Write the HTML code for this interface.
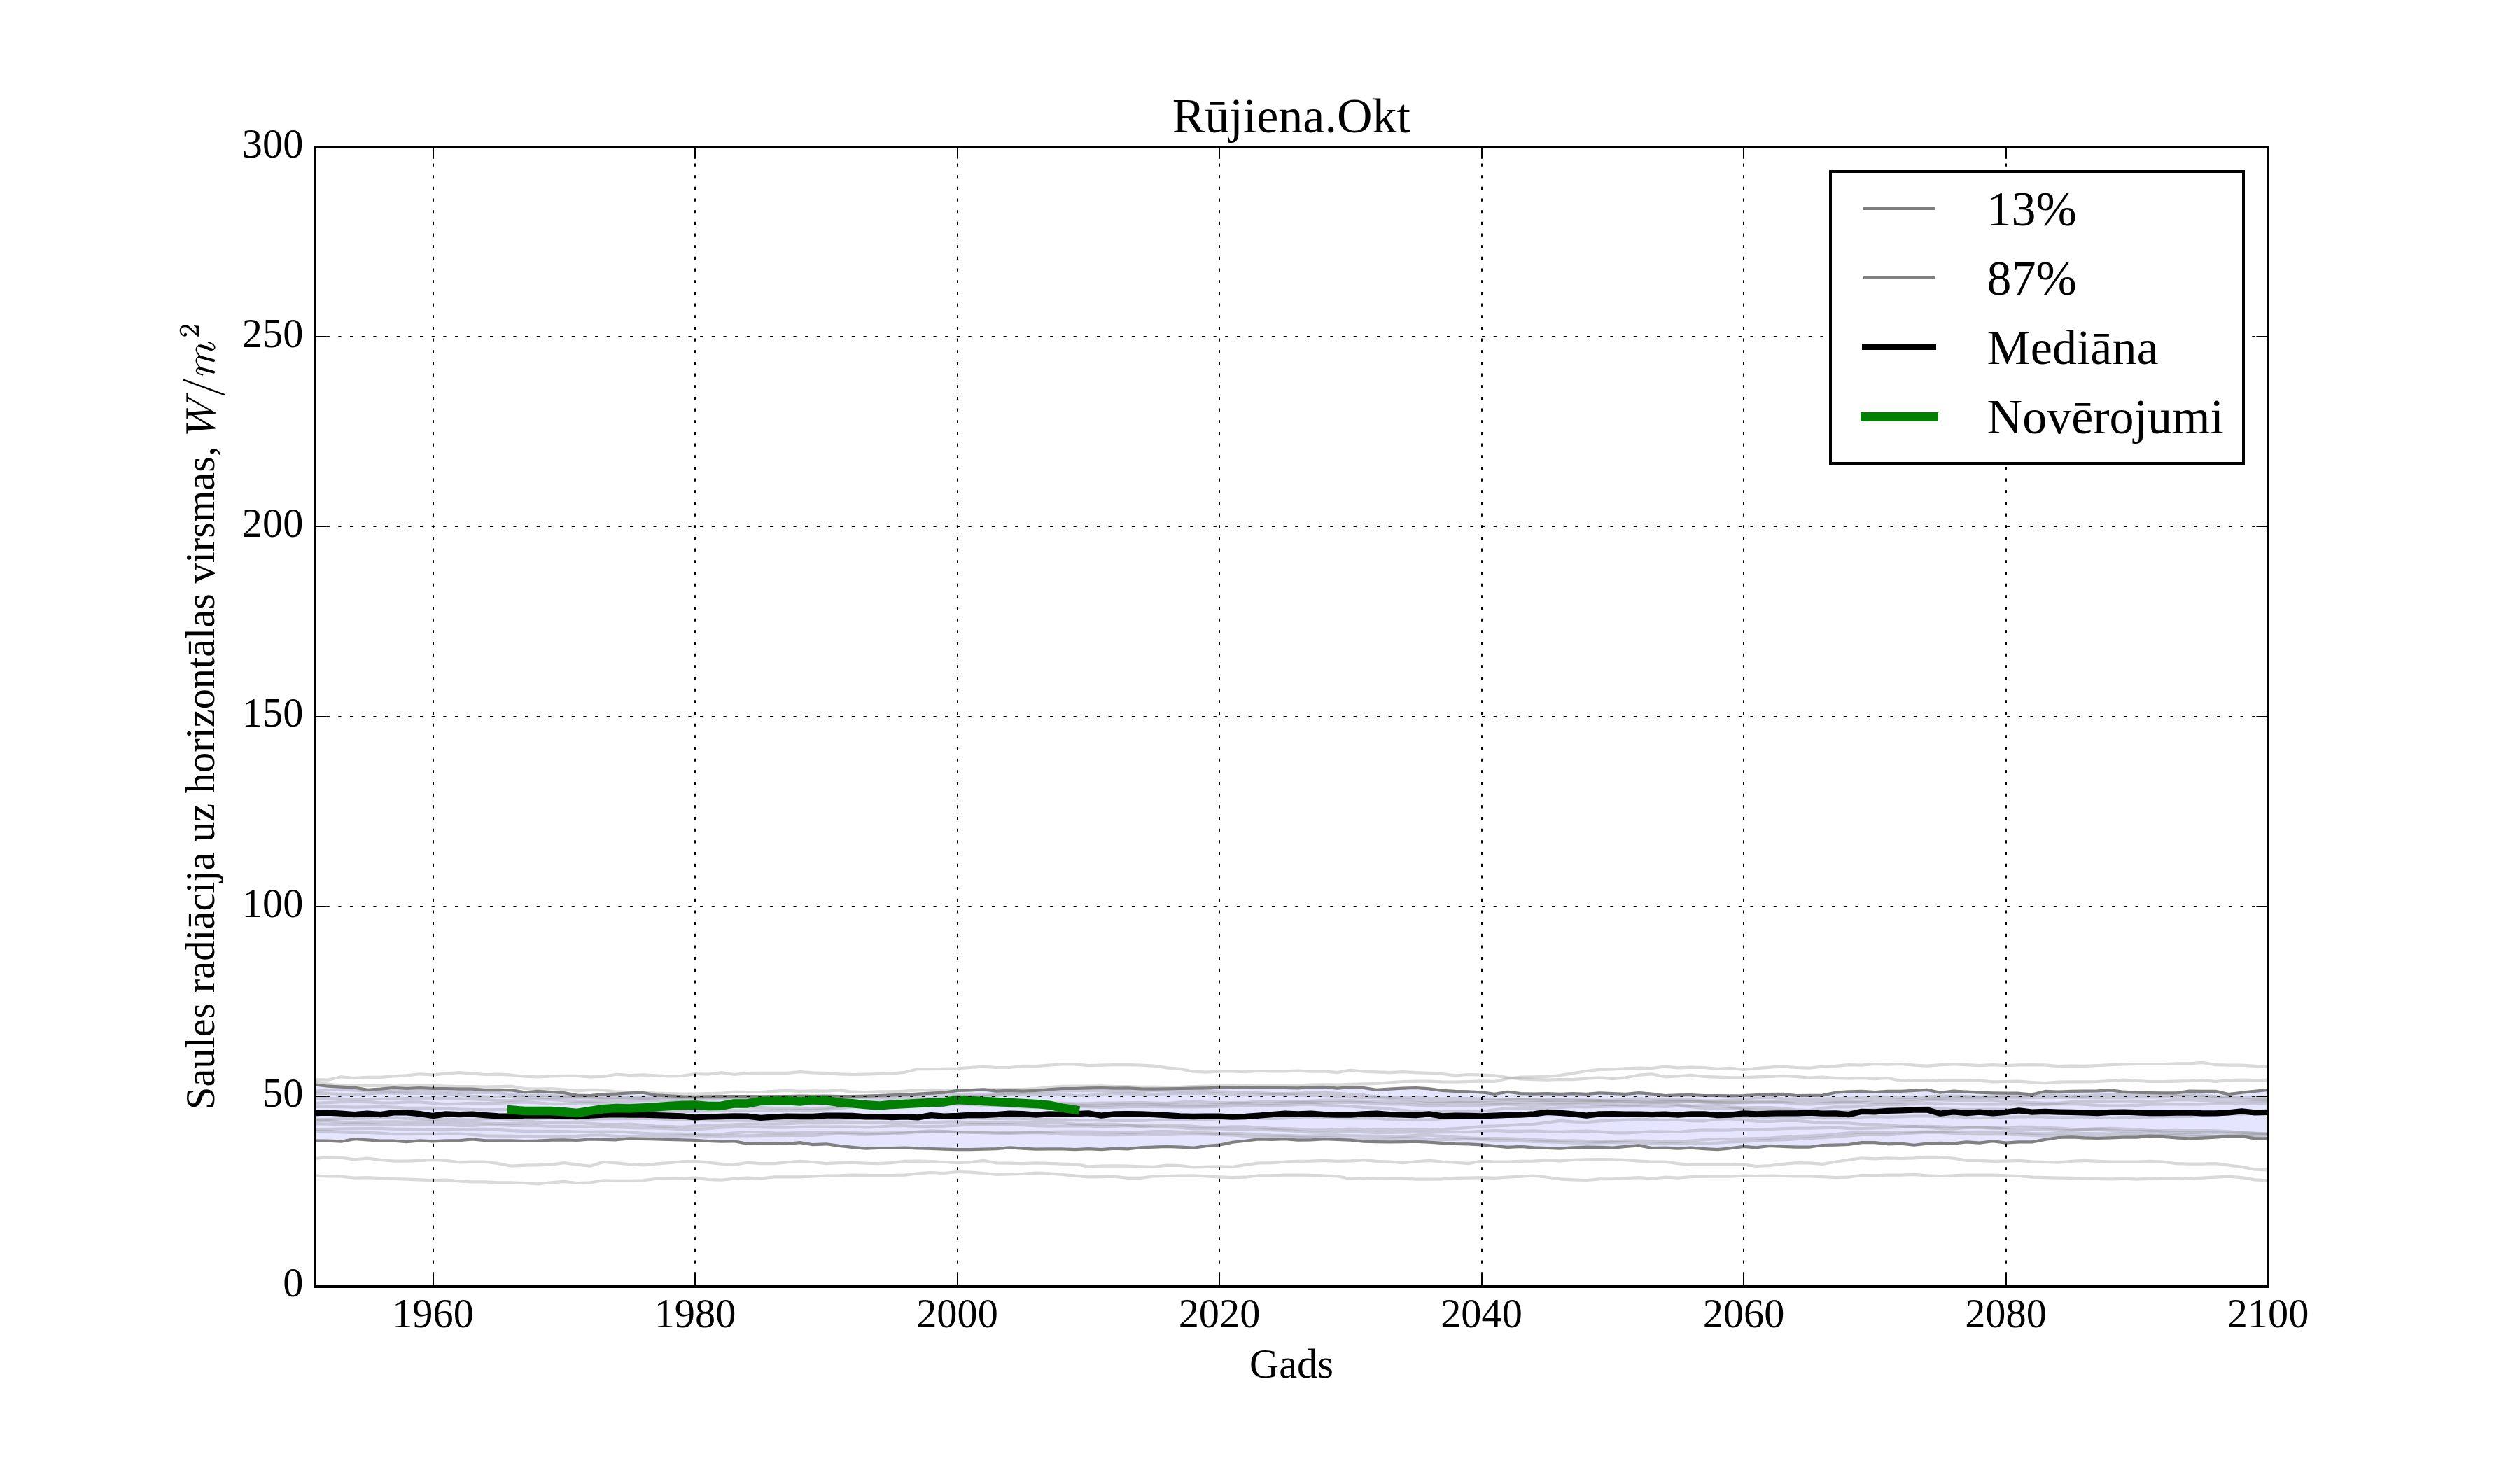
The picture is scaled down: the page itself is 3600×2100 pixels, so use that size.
<!DOCTYPE html><html lang="lv"><head><meta charset="utf-8"><title>Rūjiena.Okt</title><style>
html,body{margin:0;padding:0;background:#fff}body{width:3600px;height:2100px;position:relative;overflow:hidden;font-family:"Liberation Serif",serif;color:#000}
.t{position:absolute;white-space:nowrap;line-height:1;font-size:58.33px}
.xt{transform:translateX(-50%)}.yt{transform:translateX(-100%)}
.lg{font-size:70px}
</style></head><body>
<svg width="3600" height="2100" viewBox="0 0 3600 2100" style="position:absolute;left:0;top:0">
<rect x="0" y="0" width="3600" height="2100" fill="#fff"/>
<defs><clipPath id="ax"><rect x="450" y="210" width="2790" height="1627.5"/></clipPath></defs>
<g clip-path="url(#ax)">
<path d="M450.0 1549.3 L468.7 1551.7 L487.4 1552.6 L506.2 1553.6 L524.9 1556.9 L543.6 1555.7 L562.3 1554.0 L581.1 1555.0 L599.8 1554.0 L618.5 1555.0 L637.2 1555.0 L656.0 1555.7 L674.7 1555.7 L693.4 1557.1 L712.1 1556.9 L730.9 1557.4 L749.6 1560.3 L768.3 1558.9 L787.0 1560.0 L805.8 1561.1 L824.5 1564.6 L843.2 1565.0 L861.9 1563.1 L880.7 1562.6 L899.4 1561.4 L918.1 1560.7 L936.8 1564.3 L955.6 1565.4 L974.3 1566.4 L993.0 1566.9 L1011.7 1566.4 L1030.5 1566.0 L1049.2 1566.0 L1067.9 1566.0 L1086.6 1566.4 L1105.4 1566.0 L1124.1 1566.0 L1142.8 1565.7 L1161.5 1565.9 L1180.3 1565.7 L1199.0 1566.0 L1217.7 1566.0 L1236.4 1565.7 L1255.2 1565.0 L1273.9 1564.3 L1292.6 1563.6 L1311.3 1562.6 L1330.1 1561.7 L1348.8 1560.7 L1367.5 1557.9 L1386.2 1557.4 L1405.0 1556.4 L1423.7 1558.6 L1442.4 1557.9 L1461.1 1558.6 L1479.9 1557.9 L1498.6 1556.4 L1517.3 1555.0 L1536.0 1555.0 L1554.8 1554.3 L1573.5 1554.0 L1592.2 1554.6 L1610.9 1554.3 L1629.7 1555.4 L1648.4 1555.7 L1667.1 1555.4 L1685.8 1555.0 L1704.6 1554.6 L1723.3 1554.3 L1742.0 1553.6 L1760.7 1554.0 L1779.5 1553.6 L1798.2 1554.0 L1816.9 1554.0 L1835.6 1554.0 L1854.4 1554.3 L1873.1 1553.0 L1891.8 1552.9 L1910.5 1554.6 L1929.3 1553.1 L1948.0 1554.0 L1966.7 1556.9 L1985.4 1555.7 L2004.2 1554.6 L2022.9 1554.0 L2041.6 1555.4 L2060.3 1557.9 L2079.1 1558.9 L2097.8 1559.3 L2116.5 1560.3 L2135.2 1562.9 L2154.0 1559.7 L2172.7 1562.1 L2191.4 1562.6 L2210.1 1562.1 L2228.9 1562.9 L2247.6 1562.1 L2266.3 1562.9 L2285.0 1561.4 L2303.8 1562.1 L2322.5 1562.9 L2341.2 1561.1 L2359.9 1562.6 L2378.7 1565.0 L2397.4 1564.3 L2416.1 1564.0 L2434.8 1565.0 L2453.6 1565.0 L2472.3 1565.4 L2491.0 1565.0 L2509.7 1564.0 L2528.5 1563.1 L2547.2 1562.9 L2565.9 1565.0 L2584.6 1564.8 L2603.4 1564.6 L2622.1 1560.7 L2640.8 1559.3 L2659.5 1558.9 L2678.3 1560.0 L2697.0 1558.9 L2715.7 1558.9 L2734.4 1557.9 L2753.2 1556.9 L2771.9 1560.7 L2790.6 1558.6 L2809.3 1559.7 L2828.1 1560.7 L2846.8 1561.4 L2865.5 1561.7 L2884.2 1561.7 L2903.0 1563.6 L2921.7 1558.9 L2940.4 1559.7 L2959.1 1558.9 L2977.9 1558.6 L2996.6 1558.3 L3015.3 1557.4 L3034.0 1559.7 L3052.8 1560.7 L3071.5 1561.1 L3090.2 1561.4 L3108.9 1561.4 L3127.7 1558.6 L3146.4 1558.9 L3165.1 1558.9 L3183.8 1563.1 L3202.6 1560.7 L3221.3 1558.9 L3240.0 1556.9 L3240.0 1626.4 L3221.3 1626.4 L3202.6 1623.1 L3183.8 1623.1 L3165.1 1624.6 L3146.4 1625.7 L3127.7 1626.4 L3108.9 1625.4 L3090.2 1624.0 L3071.5 1622.6 L3052.8 1624.6 L3034.0 1624.6 L3015.3 1625.4 L2996.6 1626.0 L2977.9 1625.4 L2959.1 1624.3 L2940.4 1625.0 L2921.7 1627.9 L2903.0 1631.4 L2884.2 1631.4 L2865.5 1632.6 L2846.8 1630.3 L2828.1 1632.6 L2809.3 1631.4 L2790.6 1633.6 L2771.9 1632.9 L2753.2 1633.6 L2734.4 1635.7 L2715.7 1633.6 L2697.0 1634.3 L2678.3 1632.1 L2659.5 1632.1 L2640.8 1635.0 L2622.1 1635.7 L2603.4 1636.0 L2584.6 1638.7 L2565.9 1638.6 L2547.2 1637.9 L2528.5 1636.9 L2509.7 1639.3 L2491.0 1637.9 L2472.3 1640.3 L2453.6 1642.1 L2434.8 1641.1 L2416.1 1639.7 L2397.4 1640.7 L2378.7 1639.7 L2359.9 1640.0 L2341.2 1636.4 L2322.5 1637.9 L2303.8 1639.7 L2285.0 1638.9 L2266.3 1638.6 L2247.6 1639.3 L2228.9 1640.7 L2210.1 1640.0 L2191.4 1639.3 L2172.7 1637.9 L2154.0 1638.9 L2135.2 1637.1 L2116.5 1635.4 L2097.8 1634.3 L2079.1 1634.0 L2060.3 1632.9 L2041.6 1631.7 L2022.9 1630.7 L2004.2 1631.1 L1985.4 1631.4 L1966.7 1631.1 L1948.0 1630.7 L1929.3 1628.6 L1910.5 1627.9 L1891.8 1627.1 L1873.1 1628.4 L1854.4 1628.6 L1835.6 1627.1 L1816.9 1627.9 L1798.2 1627.4 L1779.5 1629.7 L1760.7 1631.7 L1742.0 1635.7 L1723.3 1637.1 L1704.6 1639.7 L1685.8 1638.6 L1667.1 1637.9 L1648.4 1638.6 L1629.7 1639.3 L1610.9 1641.4 L1592.2 1640.7 L1573.5 1642.1 L1554.8 1641.1 L1536.0 1642.1 L1517.3 1641.4 L1498.6 1641.4 L1479.9 1641.7 L1461.1 1640.7 L1442.4 1639.3 L1423.7 1641.1 L1405.0 1641.7 L1386.2 1642.1 L1367.5 1642.1 L1348.8 1641.7 L1330.1 1641.0 L1311.3 1640.3 L1292.6 1639.7 L1273.9 1640.0 L1255.2 1640.0 L1236.4 1640.7 L1217.7 1638.9 L1199.0 1636.9 L1180.3 1634.3 L1161.5 1635.2 L1142.8 1632.1 L1124.1 1634.0 L1105.4 1633.6 L1086.6 1633.6 L1067.9 1634.0 L1049.2 1630.3 L1030.5 1630.7 L1011.7 1630.0 L993.0 1628.9 L974.3 1628.3 L955.6 1627.9 L936.8 1627.4 L918.1 1626.9 L899.4 1626.4 L880.7 1628.3 L861.9 1627.9 L843.2 1627.4 L824.5 1629.0 L805.8 1628.3 L787.0 1628.6 L768.3 1629.7 L749.6 1630.0 L730.9 1629.3 L712.1 1629.3 L693.4 1629.3 L674.7 1627.4 L656.0 1629.3 L637.2 1629.3 L618.5 1630.3 L599.8 1629.3 L581.1 1631.1 L562.3 1629.7 L543.6 1629.7 L524.9 1628.3 L506.2 1627.1 L487.4 1630.7 L468.7 1629.7 L450.0 1629.7Z" fill="#0000ff" fill-opacity="0.1" stroke="none"/>
<path d="M450.0 1558.8 L468.7 1557.1 L487.4 1556.4 L506.2 1557.5 L524.9 1558.1 L543.6 1558.2 L562.3 1558.8 L581.1 1558.6 L599.8 1557.6 L618.5 1557.3 L637.2 1558.9 L656.0 1560.5 L674.7 1560.9 L693.4 1560.3 L712.1 1561.1 L730.9 1563.6 L749.6 1565.0 L768.3 1564.6 L787.0 1564.9 L805.8 1565.8 L824.5 1566.2 L843.2 1567.1 L861.9 1568.1 L880.7 1567.8 L899.4 1567.7 L918.1 1567.8 L936.8 1567.6 L955.6 1567.6 L974.3 1568.0 L993.0 1568.0 L1011.7 1567.9 L1030.5 1567.9 L1049.2 1568.0 L1067.9 1568.2 L1086.6 1568.3 L1105.4 1568.8 L1124.1 1568.6 L1142.8 1567.8 L1161.5 1568.2 L1180.3 1567.3 L1199.0 1566.5 L1217.7 1566.5 L1236.4 1566.7 L1255.2 1566.3 L1273.9 1565.2 L1292.6 1564.9 L1311.3 1564.2 L1330.1 1562.6 L1348.8 1562.4 L1367.5 1563.4 L1386.2 1563.7 L1405.0 1563.3 L1423.7 1562.4 L1442.4 1561.4 L1461.1 1561.0 L1479.9 1560.3 L1498.6 1558.9 L1517.3 1558.3 L1536.0 1558.1 L1554.8 1557.9 L1573.5 1558.4 L1592.2 1558.1 L1610.9 1558.6 L1629.7 1559.4 L1648.4 1558.0 L1667.1 1557.8 L1685.8 1558.4 L1704.6 1557.8 L1723.3 1558.0 L1742.0 1559.3 L1760.7 1560.0 L1779.5 1560.4 L1798.2 1561.0 L1816.9 1561.9 L1835.6 1562.2 L1854.4 1561.6 L1873.1 1560.9 L1891.8 1560.8 L1910.5 1561.8 L1929.3 1563.2 L1948.0 1564.2 L1966.7 1566.5 L1985.4 1568.0 L2004.2 1567.2 L2022.9 1567.3 L2041.6 1569.0 L2060.3 1569.5 L2079.1 1569.2 L2097.8 1569.1 L2116.5 1569.3 L2135.2 1570.1 L2154.0 1570.6 L2172.7 1570.1 L2191.4 1570.2 L2210.1 1571.1 L2228.9 1571.0 L2247.6 1570.5 L2266.3 1571.2 L2285.0 1571.8 L2303.8 1571.5 L2322.5 1570.5 L2341.2 1569.3 L2359.9 1569.9 L2378.7 1571.1 L2397.4 1571.0 L2416.1 1571.2 L2434.8 1572.5 L2453.6 1572.6 L2472.3 1571.6 L2491.0 1570.7 L2509.7 1568.3 L2528.5 1567.8 L2547.2 1569.4 L2565.9 1569.8 L2584.6 1569.8 L2603.4 1569.5 L2622.1 1569.0 L2640.8 1568.9 L2659.5 1567.8 L2678.3 1566.7 L2697.0 1567.0 L2715.7 1568.0 L2734.4 1567.8 L2753.2 1566.3 L2771.9 1565.7 L2790.6 1565.6 L2809.3 1566.1 L2828.1 1566.9 L2846.8 1566.1 L2865.5 1565.0 L2884.2 1565.2 L2903.0 1565.0 L2921.7 1564.0 L2940.4 1564.3 L2959.1 1565.6 L2977.9 1565.5 L2996.6 1564.4 L3015.3 1563.9 L3034.0 1563.4 L3052.8 1563.4 L3071.5 1564.5 L3090.2 1564.9 L3108.9 1564.0 L3127.7 1563.7 L3146.4 1564.7 L3165.1 1566.3 L3183.8 1566.9 L3202.6 1567.3 L3221.3 1568.5 L3240.0 1569.2" fill="none" stroke="#808080" stroke-opacity="0.3" stroke-width="4.17" stroke-linejoin="round"/>
<path d="M450.0 1561.8 L468.7 1562.0 L487.4 1563.0 L506.2 1563.3 L524.9 1562.5 L543.6 1561.5 L562.3 1561.3 L581.1 1561.8 L599.8 1562.0 L618.5 1561.9 L637.2 1562.6 L656.0 1564.2 L674.7 1565.9 L693.4 1566.7 L712.1 1566.8 L730.9 1566.8 L749.6 1567.1 L768.3 1567.6 L787.0 1568.2 L805.8 1568.0 L824.5 1567.8 L843.2 1568.4 L861.9 1569.3 L880.7 1569.7 L899.4 1569.4 L918.1 1569.2 L936.8 1569.4 L955.6 1570.0 L974.3 1571.1 L993.0 1571.0 L1011.7 1570.5 L1030.5 1569.8 L1049.2 1568.7 L1067.9 1568.6 L1086.6 1569.9 L1105.4 1570.3 L1124.1 1569.1 L1142.8 1568.6 L1161.5 1568.5 L1180.3 1567.5 L1199.0 1567.2 L1217.7 1567.9 L1236.4 1568.2 L1255.2 1568.5 L1273.9 1568.8 L1292.6 1568.3 L1311.3 1568.3 L1330.1 1569.1 L1348.8 1568.1 L1367.5 1566.1 L1386.2 1565.9 L1405.0 1566.1 L1423.7 1564.7 L1442.4 1563.7 L1461.1 1563.2 L1479.9 1562.7 L1498.6 1562.9 L1517.3 1563.7 L1536.0 1564.8 L1554.8 1564.8 L1573.5 1563.2 L1592.2 1562.0 L1610.9 1562.4 L1629.7 1563.0 L1648.4 1563.1 L1667.1 1562.4 L1685.8 1561.8 L1704.6 1562.0 L1723.3 1561.8 L1742.0 1562.3 L1760.7 1563.5 L1779.5 1564.4 L1798.2 1564.1 L1816.9 1563.0 L1835.6 1563.7 L1854.4 1564.6 L1873.1 1564.5 L1891.8 1565.2 L1910.5 1565.8 L1929.3 1567.3 L1948.0 1568.2 L1966.7 1568.2 L1985.4 1569.0 L2004.2 1570.2 L2022.9 1571.5 L2041.6 1573.1 L2060.3 1573.4 L2079.1 1573.7 L2097.8 1573.6 L2116.5 1572.7 L2135.2 1572.0 L2154.0 1571.4 L2172.7 1571.2 L2191.4 1571.6 L2210.1 1571.9 L2228.9 1571.7 L2247.6 1572.1 L2266.3 1572.4 L2285.0 1572.2 L2303.8 1572.8 L2322.5 1574.1 L2341.2 1574.0 L2359.9 1572.9 L2378.7 1572.5 L2397.4 1572.8 L2416.1 1573.4 L2434.8 1574.3 L2453.6 1574.6 L2472.3 1574.9 L2491.0 1574.7 L2509.7 1573.6 L2528.5 1573.2 L2547.2 1573.8 L2565.9 1574.2 L2584.6 1574.0 L2603.4 1573.9 L2622.1 1574.1 L2640.8 1573.6 L2659.5 1572.4 L2678.3 1570.7 L2697.0 1570.3 L2715.7 1571.2 L2734.4 1570.7 L2753.2 1569.4 L2771.9 1569.0 L2790.6 1568.5 L2809.3 1568.0 L2828.1 1568.2 L2846.8 1568.1 L2865.5 1568.1 L2884.2 1568.3 L2903.0 1568.1 L2921.7 1567.9 L2940.4 1567.6 L2959.1 1567.3 L2977.9 1567.8 L2996.6 1568.3 L3015.3 1568.1 L3034.0 1567.8 L3052.8 1567.3 L3071.5 1567.4 L3090.2 1567.3 L3108.9 1565.9 L3127.7 1566.4 L3146.4 1568.2 L3165.1 1568.5 L3183.8 1568.7 L3202.6 1570.0 L3221.3 1571.0 L3240.0 1571.5" fill="none" stroke="#808080" stroke-opacity="0.3" stroke-width="4.17" stroke-linejoin="round"/>
<path d="M450.0 1569.1 L468.7 1569.1 L487.4 1569.5 L506.2 1570.3 L524.9 1570.5 L543.6 1569.8 L562.3 1569.4 L581.1 1569.0 L599.8 1568.5 L618.5 1568.6 L637.2 1568.9 L656.0 1569.3 L674.7 1570.1 L693.4 1571.0 L712.1 1572.2 L730.9 1571.8 L749.6 1570.4 L768.3 1570.4 L787.0 1571.0 L805.8 1571.9 L824.5 1572.7 L843.2 1573.2 L861.9 1573.6 L880.7 1573.7 L899.4 1572.8 L918.1 1571.9 L936.8 1572.5 L955.6 1573.6 L974.3 1574.1 L993.0 1574.8 L1011.7 1575.8 L1030.5 1576.0 L1049.2 1575.9 L1067.9 1576.1 L1086.6 1576.0 L1105.4 1575.5 L1124.1 1575.2 L1142.8 1575.1 L1161.5 1576.1 L1180.3 1576.2 L1199.0 1574.6 L1217.7 1574.3 L1236.4 1574.9 L1255.2 1574.5 L1273.9 1574.2 L1292.6 1574.9 L1311.3 1575.2 L1330.1 1575.2 L1348.8 1574.7 L1367.5 1573.8 L1386.2 1574.5 L1405.0 1575.1 L1423.7 1574.4 L1442.4 1574.6 L1461.1 1575.8 L1479.9 1576.5 L1498.6 1575.9 L1517.3 1575.7 L1536.0 1576.5 L1554.8 1576.3 L1573.5 1575.7 L1592.2 1575.6 L1610.9 1575.3 L1629.7 1574.9 L1648.4 1575.6 L1667.1 1576.0 L1685.8 1574.5 L1704.6 1573.6 L1723.3 1574.7 L1742.0 1575.2 L1760.7 1575.4 L1779.5 1575.0 L1798.2 1573.7 L1816.9 1573.3 L1835.6 1573.6 L1854.4 1573.7 L1873.1 1572.9 L1891.8 1571.9 L1910.5 1571.7 L1929.3 1572.1 L1948.0 1572.9 L1966.7 1574.0 L1985.4 1574.3 L2004.2 1574.1 L2022.9 1574.9 L2041.6 1576.2 L2060.3 1575.8 L2079.1 1575.2 L2097.8 1575.3 L2116.5 1575.3 L2135.2 1575.6 L2154.0 1575.7 L2172.7 1575.0 L2191.4 1574.9 L2210.1 1575.2 L2228.9 1575.3 L2247.6 1575.0 L2266.3 1574.3 L2285.0 1574.0 L2303.8 1573.9 L2322.5 1573.9 L2341.2 1574.4 L2359.9 1574.7 L2378.7 1574.5 L2397.4 1573.9 L2416.1 1573.6 L2434.8 1574.4 L2453.6 1575.6 L2472.3 1575.7 L2491.0 1575.1 L2509.7 1575.0 L2528.5 1574.8 L2547.2 1575.0 L2565.9 1576.8 L2584.6 1577.7 L2603.4 1576.4 L2622.1 1575.1 L2640.8 1574.9 L2659.5 1575.2 L2678.3 1574.9 L2697.0 1574.8 L2715.7 1574.8 L2734.4 1573.3 L2753.2 1571.3 L2771.9 1571.3 L2790.6 1571.9 L2809.3 1571.9 L2828.1 1571.6 L2846.8 1572.0 L2865.5 1573.2 L2884.2 1574.3 L2903.0 1575.1 L2921.7 1575.8 L2940.4 1575.9 L2959.1 1574.0 L2977.9 1573.2 L2996.6 1573.7 L3015.3 1573.1 L3034.0 1572.5 L3052.8 1572.9 L3071.5 1573.2 L3090.2 1572.3 L3108.9 1570.9 L3127.7 1571.2 L3146.4 1571.9 L3165.1 1572.7 L3183.8 1573.3 L3202.6 1573.4 L3221.3 1573.2 L3240.0 1573.3" fill="none" stroke="#808080" stroke-opacity="0.3" stroke-width="4.17" stroke-linejoin="round"/>
<path d="M450.0 1576.0 L468.7 1575.2 L487.4 1574.2 L506.2 1573.8 L524.9 1574.2 L543.6 1575.3 L562.3 1575.5 L581.1 1574.4 L599.8 1574.3 L618.5 1575.9 L637.2 1577.3 L656.0 1576.6 L674.7 1575.9 L693.4 1576.1 L712.1 1576.0 L730.9 1575.2 L749.6 1574.4 L768.3 1575.3 L787.0 1576.8 L805.8 1576.7 L824.5 1575.7 L843.2 1575.6 L861.9 1576.6 L880.7 1577.3 L899.4 1577.7 L918.1 1578.4 L936.8 1578.4 L955.6 1578.9 L974.3 1579.9 L993.0 1580.5 L1011.7 1580.8 L1030.5 1580.4 L1049.2 1580.5 L1067.9 1581.3 L1086.6 1582.2 L1105.4 1582.9 L1124.1 1582.9 L1142.8 1582.8 L1161.5 1583.4 L1180.3 1582.3 L1199.0 1580.7 L1217.7 1579.9 L1236.4 1580.0 L1255.2 1579.6 L1273.9 1578.8 L1292.6 1577.7 L1311.3 1576.2 L1330.1 1575.9 L1348.8 1576.9 L1367.5 1577.1 L1386.2 1576.8 L1405.0 1576.0 L1423.7 1576.6 L1442.4 1577.6 L1461.1 1577.2 L1479.9 1577.1 L1498.6 1577.4 L1517.3 1577.4 L1536.0 1578.5 L1554.8 1579.4 L1573.5 1579.2 L1592.2 1578.2 L1610.9 1577.3 L1629.7 1577.4 L1648.4 1578.0 L1667.1 1578.5 L1685.8 1578.4 L1704.6 1578.3 L1723.3 1578.7 L1742.0 1577.8 L1760.7 1575.9 L1779.5 1575.9 L1798.2 1576.9 L1816.9 1576.5 L1835.6 1575.4 L1854.4 1574.9 L1873.1 1574.9 L1891.8 1575.2 L1910.5 1575.0 L1929.3 1574.9 L1948.0 1575.1 L1966.7 1576.4 L1985.4 1577.5 L2004.2 1577.4 L2022.9 1578.6 L2041.6 1579.7 L2060.3 1579.6 L2079.1 1579.7 L2097.8 1579.3 L2116.5 1579.1 L2135.2 1578.0 L2154.0 1577.1 L2172.7 1578.4 L2191.4 1579.2 L2210.1 1578.3 L2228.9 1577.7 L2247.6 1577.0 L2266.3 1577.0 L2285.0 1577.7 L2303.8 1578.0 L2322.5 1578.5 L2341.2 1578.3 L2359.9 1576.9 L2378.7 1576.6 L2397.4 1578.1 L2416.1 1579.8 L2434.8 1579.4 L2453.6 1579.3 L2472.3 1581.3 L2491.0 1582.6 L2509.7 1582.0 L2528.5 1582.1 L2547.2 1583.4 L2565.9 1585.3 L2584.6 1586.1 L2603.4 1583.0 L2622.1 1581.1 L2640.8 1581.4 L2659.5 1580.4 L2678.3 1578.1 L2697.0 1577.9 L2715.7 1578.1 L2734.4 1577.0 L2753.2 1576.1 L2771.9 1576.6 L2790.6 1577.0 L2809.3 1577.1 L2828.1 1577.5 L2846.8 1577.7 L2865.5 1577.2 L2884.2 1577.7 L2903.0 1578.2 L2921.7 1577.7 L2940.4 1577.2 L2959.1 1576.9 L2977.9 1577.6 L2996.6 1579.1 L3015.3 1579.5 L3034.0 1579.4 L3052.8 1578.8 L3071.5 1577.7 L3090.2 1577.3 L3108.9 1577.4 L3127.7 1577.6 L3146.4 1577.4 L3165.1 1576.7 L3183.8 1576.9 L3202.6 1577.1 L3221.3 1576.6 L3240.0 1576.5" fill="none" stroke="#808080" stroke-opacity="0.3" stroke-width="4.17" stroke-linejoin="round"/>
<path d="M450.0 1581.0 L468.7 1580.9 L487.4 1581.1 L506.2 1581.7 L524.9 1581.4 L543.6 1580.8 L562.3 1581.7 L581.1 1582.9 L599.8 1582.8 L618.5 1582.7 L637.2 1583.7 L656.0 1584.5 L674.7 1585.1 L693.4 1585.4 L712.1 1585.1 L730.9 1585.1 L749.6 1585.6 L768.3 1586.5 L787.0 1587.1 L805.8 1587.0 L824.5 1586.6 L843.2 1586.4 L861.9 1586.4 L880.7 1587.0 L899.4 1588.5 L918.1 1588.3 L936.8 1585.9 L955.6 1585.8 L974.3 1587.6 L993.0 1587.7 L1011.7 1587.1 L1030.5 1586.5 L1049.2 1586.3 L1067.9 1586.5 L1086.6 1586.5 L1105.4 1586.7 L1124.1 1586.6 L1142.8 1586.1 L1161.5 1586.1 L1180.3 1585.2 L1199.0 1583.5 L1217.7 1581.3 L1236.4 1580.5 L1255.2 1580.7 L1273.9 1579.5 L1292.6 1578.5 L1311.3 1577.7 L1330.1 1576.8 L1348.8 1577.2 L1367.5 1576.9 L1386.2 1577.7 L1405.0 1579.0 L1423.7 1579.5 L1442.4 1580.3 L1461.1 1581.5 L1479.9 1582.1 L1498.6 1581.2 L1517.3 1580.1 L1536.0 1580.1 L1554.8 1581.2 L1573.5 1582.0 L1592.2 1581.6 L1610.9 1581.0 L1629.7 1581.0 L1648.4 1581.0 L1667.1 1581.1 L1685.8 1581.4 L1704.6 1581.4 L1723.3 1581.1 L1742.0 1580.7 L1760.7 1580.1 L1779.5 1579.7 L1798.2 1579.4 L1816.9 1579.2 L1835.6 1578.8 L1854.4 1578.0 L1873.1 1577.4 L1891.8 1578.9 L1910.5 1579.7 L1929.3 1580.4 L1948.0 1581.9 L1966.7 1582.5 L1985.4 1583.9 L2004.2 1586.2 L2022.9 1587.9 L2041.6 1589.0 L2060.3 1587.9 L2079.1 1587.5 L2097.8 1587.9 L2116.5 1587.8 L2135.2 1585.4 L2154.0 1582.9 L2172.7 1582.7 L2191.4 1584.1 L2210.1 1584.3 L2228.9 1581.9 L2247.6 1581.0 L2266.3 1581.5 L2285.0 1581.0 L2303.8 1580.4 L2322.5 1580.5 L2341.2 1580.0 L2359.9 1580.4 L2378.7 1580.8 L2397.4 1579.7 L2416.1 1581.1 L2434.8 1583.1 L2453.6 1583.1 L2472.3 1583.0 L2491.0 1584.5 L2509.7 1585.8 L2528.5 1585.9 L2547.2 1586.4 L2565.9 1587.2 L2584.6 1588.9 L2603.4 1589.3 L2622.1 1588.3 L2640.8 1587.0 L2659.5 1586.2 L2678.3 1584.7 L2697.0 1584.0 L2715.7 1584.5 L2734.4 1583.7 L2753.2 1582.1 L2771.9 1583.5 L2790.6 1584.8 L2809.3 1585.1 L2828.1 1584.8 L2846.8 1584.6 L2865.5 1584.8 L2884.2 1585.7 L2903.0 1587.3 L2921.7 1588.6 L2940.4 1589.2 L2959.1 1588.9 L2977.9 1588.6 L2996.6 1588.0 L3015.3 1588.4 L3034.0 1589.6 L3052.8 1589.7 L3071.5 1589.0 L3090.2 1588.9 L3108.9 1590.3 L3127.7 1590.9 L3146.4 1590.9 L3165.1 1590.4 L3183.8 1589.5 L3202.6 1590.2 L3221.3 1590.6 L3240.0 1589.3" fill="none" stroke="#808080" stroke-opacity="0.3" stroke-width="4.17" stroke-linejoin="round"/>
<path d="M450.0 1599.4 L468.7 1598.9 L487.4 1598.0 L506.2 1597.8 L524.9 1597.3 L543.6 1596.5 L562.3 1596.7 L581.1 1597.6 L599.8 1598.4 L618.5 1598.8 L637.2 1598.8 L656.0 1599.4 L674.7 1599.7 L693.4 1598.3 L712.1 1598.0 L730.9 1599.5 L749.6 1599.8 L768.3 1598.1 L787.0 1597.0 L805.8 1597.6 L824.5 1598.4 L843.2 1598.6 L861.9 1598.2 L880.7 1598.2 L899.4 1598.2 L918.1 1597.6 L936.8 1597.9 L955.6 1599.1 L974.3 1599.5 L993.0 1599.6 L1011.7 1600.5 L1030.5 1600.8 L1049.2 1600.5 L1067.9 1600.6 L1086.6 1600.7 L1105.4 1601.0 L1124.1 1601.1 L1142.8 1600.3 L1161.5 1599.5 L1180.3 1599.2 L1199.0 1598.6 L1217.7 1598.1 L1236.4 1597.7 L1255.2 1596.9 L1273.9 1596.7 L1292.6 1595.8 L1311.3 1594.5 L1330.1 1594.8 L1348.8 1596.9 L1367.5 1597.3 L1386.2 1596.8 L1405.0 1597.7 L1423.7 1598.2 L1442.4 1597.5 L1461.1 1597.8 L1479.9 1599.0 L1498.6 1599.2 L1517.3 1599.6 L1536.0 1600.2 L1554.8 1600.2 L1573.5 1600.5 L1592.2 1601.0 L1610.9 1601.0 L1629.7 1601.0 L1648.4 1600.2 L1667.1 1599.3 L1685.8 1599.6 L1704.6 1599.7 L1723.3 1599.4 L1742.0 1598.4 L1760.7 1597.1 L1779.5 1596.7 L1798.2 1597.3 L1816.9 1598.0 L1835.6 1597.3 L1854.4 1595.7 L1873.1 1595.5 L1891.8 1596.5 L1910.5 1597.1 L1929.3 1597.5 L1948.0 1597.2 L1966.7 1597.7 L1985.4 1599.2 L2004.2 1599.8 L2022.9 1599.5 L2041.6 1599.6 L2060.3 1598.1 L2079.1 1597.0 L2097.8 1596.5 L2116.5 1595.2 L2135.2 1593.6 L2154.0 1593.4 L2172.7 1593.4 L2191.4 1592.2 L2210.1 1590.6 L2228.9 1589.6 L2247.6 1590.3 L2266.3 1590.2 L2285.0 1589.6 L2303.8 1589.8 L2322.5 1590.5 L2341.2 1591.1 L2359.9 1590.9 L2378.7 1591.0 L2397.4 1592.3 L2416.1 1592.6 L2434.8 1592.6 L2453.6 1593.9 L2472.3 1594.8 L2491.0 1595.1 L2509.7 1595.5 L2528.5 1595.8 L2547.2 1595.6 L2565.9 1595.6 L2584.6 1596.6 L2603.4 1597.1 L2622.1 1597.2 L2640.8 1597.1 L2659.5 1596.0 L2678.3 1595.2 L2697.0 1595.6 L2715.7 1595.2 L2734.4 1594.5 L2753.2 1594.4 L2771.9 1594.8 L2790.6 1595.3 L2809.3 1596.0 L2828.1 1596.8 L2846.8 1596.5 L2865.5 1595.8 L2884.2 1595.4 L2903.0 1595.1 L2921.7 1595.6 L2940.4 1596.3 L2959.1 1595.8 L2977.9 1595.3 L2996.6 1596.3 L3015.3 1596.9 L3034.0 1596.2 L3052.8 1595.9 L3071.5 1595.7 L3090.2 1595.1 L3108.9 1595.2 L3127.7 1594.9 L3146.4 1593.5 L3165.1 1591.4 L3183.8 1590.9 L3202.6 1591.6 L3221.3 1590.2 L3240.0 1588.1" fill="none" stroke="#808080" stroke-opacity="0.3" stroke-width="4.17" stroke-linejoin="round"/>
<path d="M450.0 1601.0 L468.7 1600.8 L487.4 1602.6 L506.2 1603.0 L524.9 1602.4 L543.6 1602.6 L562.3 1602.3 L581.1 1602.5 L599.8 1602.5 L618.5 1602.0 L637.2 1603.0 L656.0 1603.8 L674.7 1603.9 L693.4 1604.5 L712.1 1605.0 L730.9 1604.9 L749.6 1604.0 L768.3 1603.2 L787.0 1603.1 L805.8 1603.0 L824.5 1603.3 L843.2 1604.8 L861.9 1606.2 L880.7 1606.1 L899.4 1605.5 L918.1 1607.0 L936.8 1608.5 L955.6 1609.2 L974.3 1609.8 L993.0 1608.4 L1011.7 1607.6 L1030.5 1607.2 L1049.2 1606.3 L1067.9 1605.5 L1086.6 1605.5 L1105.4 1605.7 L1124.1 1605.2 L1142.8 1604.2 L1161.5 1603.8 L1180.3 1604.1 L1199.0 1603.4 L1217.7 1603.1 L1236.4 1603.4 L1255.2 1603.2 L1273.9 1603.3 L1292.6 1603.6 L1311.3 1604.0 L1330.1 1603.4 L1348.8 1602.6 L1367.5 1602.3 L1386.2 1603.3 L1405.0 1604.2 L1423.7 1603.6 L1442.4 1602.7 L1461.1 1602.8 L1479.9 1603.5 L1498.6 1603.5 L1517.3 1604.0 L1536.0 1605.7 L1554.8 1606.0 L1573.5 1605.6 L1592.2 1605.9 L1610.9 1607.3 L1629.7 1608.3 L1648.4 1607.5 L1667.1 1607.0 L1685.8 1607.4 L1704.6 1608.9 L1723.3 1610.3 L1742.0 1610.0 L1760.7 1609.3 L1779.5 1609.4 L1798.2 1610.7 L1816.9 1611.9 L1835.6 1612.2 L1854.4 1612.9 L1873.1 1614.3 L1891.8 1614.4 L1910.5 1613.6 L1929.3 1612.6 L1948.0 1613.1 L1966.7 1614.1 L1985.4 1613.8 L2004.2 1614.0 L2022.9 1614.1 L2041.6 1614.0 L2060.3 1613.2 L2079.1 1612.1 L2097.8 1610.8 L2116.5 1609.2 L2135.2 1608.5 L2154.0 1607.6 L2172.7 1606.1 L2191.4 1605.8 L2210.1 1603.6 L2228.9 1600.9 L2247.6 1602.4 L2266.3 1603.1 L2285.0 1601.4 L2303.8 1600.6 L2322.5 1599.9 L2341.2 1598.9 L2359.9 1599.6 L2378.7 1600.2 L2397.4 1599.7 L2416.1 1601.1 L2434.8 1601.3 L2453.6 1599.0 L2472.3 1598.2 L2491.0 1600.0 L2509.7 1601.7 L2528.5 1601.8 L2547.2 1601.0 L2565.9 1600.8 L2584.6 1602.3 L2603.4 1604.0 L2622.1 1603.8 L2640.8 1604.4 L2659.5 1606.0 L2678.3 1606.1 L2697.0 1606.8 L2715.7 1608.7 L2734.4 1609.1 L2753.2 1608.8 L2771.9 1609.3 L2790.6 1610.2 L2809.3 1610.1 L2828.1 1610.6 L2846.8 1611.6 L2865.5 1611.0 L2884.2 1609.6 L2903.0 1609.8 L2921.7 1610.9 L2940.4 1611.7 L2959.1 1612.9 L2977.9 1613.1 L2996.6 1612.1 L3015.3 1611.8 L3034.0 1612.6 L3052.8 1613.7 L3071.5 1615.0 L3090.2 1615.0 L3108.9 1614.9 L3127.7 1615.4 L3146.4 1615.1 L3165.1 1615.3 L3183.8 1616.4 L3202.6 1617.9 L3221.3 1619.0 L3240.0 1619.3" fill="none" stroke="#808080" stroke-opacity="0.3" stroke-width="4.17" stroke-linejoin="round"/>
<path d="M450.0 1605.2 L468.7 1605.7 L487.4 1606.1 L506.2 1605.7 L524.9 1605.8 L543.6 1606.7 L562.3 1606.9 L581.1 1606.4 L599.8 1606.3 L618.5 1606.1 L637.2 1606.5 L656.0 1608.0 L674.7 1607.9 L693.4 1606.6 L712.1 1607.0 L730.9 1608.0 L749.6 1607.7 L768.3 1608.0 L787.0 1609.0 L805.8 1608.9 L824.5 1609.1 L843.2 1609.6 L861.9 1609.7 L880.7 1610.1 L899.4 1611.0 L918.1 1611.3 L936.8 1611.4 L955.6 1612.2 L974.3 1613.2 L993.0 1613.2 L1011.7 1612.1 L1030.5 1610.7 L1049.2 1610.0 L1067.9 1609.8 L1086.6 1610.1 L1105.4 1610.6 L1124.1 1610.7 L1142.8 1609.9 L1161.5 1609.4 L1180.3 1609.7 L1199.0 1609.3 L1217.7 1609.5 L1236.4 1610.3 L1255.2 1609.7 L1273.9 1608.2 L1292.6 1608.2 L1311.3 1609.1 L1330.1 1609.0 L1348.8 1608.6 L1367.5 1607.6 L1386.2 1606.2 L1405.0 1606.0 L1423.7 1606.2 L1442.4 1606.4 L1461.1 1607.1 L1479.9 1608.1 L1498.6 1608.7 L1517.3 1608.5 L1536.0 1608.1 L1554.8 1608.4 L1573.5 1609.4 L1592.2 1608.9 L1610.9 1608.0 L1629.7 1609.1 L1648.4 1609.9 L1667.1 1609.9 L1685.8 1611.0 L1704.6 1612.4 L1723.3 1612.3 L1742.0 1612.4 L1760.7 1612.8 L1779.5 1613.0 L1798.2 1613.4 L1816.9 1614.1 L1835.6 1614.9 L1854.4 1616.1 L1873.1 1617.4 L1891.8 1617.7 L1910.5 1617.3 L1929.3 1616.7 L1948.0 1617.1 L1966.7 1618.1 L1985.4 1618.0 L2004.2 1617.4 L2022.9 1617.4 L2041.6 1617.7 L2060.3 1617.2 L2079.1 1617.2 L2097.8 1617.0 L2116.5 1615.8 L2135.2 1615.0 L2154.0 1615.8 L2172.7 1615.8 L2191.4 1615.3 L2210.1 1616.4 L2228.9 1616.8 L2247.6 1616.2 L2266.3 1615.7 L2285.0 1616.5 L2303.8 1618.1 L2322.5 1618.4 L2341.2 1617.3 L2359.9 1616.3 L2378.7 1616.6 L2397.4 1617.0 L2416.1 1615.4 L2434.8 1614.3 L2453.6 1614.6 L2472.3 1614.4 L2491.0 1613.3 L2509.7 1613.1 L2528.5 1613.0 L2547.2 1612.2 L2565.9 1611.7 L2584.6 1611.7 L2603.4 1611.2 L2622.1 1610.7 L2640.8 1611.8 L2659.5 1612.1 L2678.3 1611.4 L2697.0 1610.9 L2715.7 1610.0 L2734.4 1609.2 L2753.2 1610.4 L2771.9 1612.1 L2790.6 1612.3 L2809.3 1611.0 L2828.1 1610.1 L2846.8 1610.9 L2865.5 1612.8 L2884.2 1613.5 L2903.0 1612.9 L2921.7 1613.5 L2940.4 1614.8 L2959.1 1615.1 L2977.9 1613.9 L2996.6 1613.3 L3015.3 1614.9 L3034.0 1616.2 L3052.8 1616.1 L3071.5 1615.7 L3090.2 1616.5 L3108.9 1617.9 L3127.7 1617.9 L3146.4 1617.5 L3165.1 1618.2 L3183.8 1618.7 L3202.6 1618.1 L3221.3 1618.7 L3240.0 1620.0" fill="none" stroke="#808080" stroke-opacity="0.3" stroke-width="4.17" stroke-linejoin="round"/>
<path d="M450.0 1613.0 L468.7 1613.0 L487.4 1612.5 L506.2 1612.2 L524.9 1612.0 L543.6 1611.9 L562.3 1612.6 L581.1 1612.8 L599.8 1613.5 L618.5 1614.2 L637.2 1614.2 L656.0 1613.7 L674.7 1612.8 L693.4 1612.8 L712.1 1614.0 L730.9 1615.2 L749.6 1615.9 L768.3 1615.9 L787.0 1615.8 L805.8 1616.2 L824.5 1616.6 L843.2 1616.8 L861.9 1616.7 L880.7 1616.5 L899.4 1617.3 L918.1 1618.8 L936.8 1619.9 L955.6 1619.7 L974.3 1619.8 L993.0 1620.5 L1011.7 1620.7 L1030.5 1620.1 L1049.2 1618.4 L1067.9 1617.0 L1086.6 1617.6 L1105.4 1618.4 L1124.1 1618.5 L1142.8 1617.9 L1161.5 1617.5 L1180.3 1617.6 L1199.0 1617.7 L1217.7 1618.0 L1236.4 1618.6 L1255.2 1618.7 L1273.9 1618.0 L1292.6 1617.2 L1311.3 1617.1 L1330.1 1616.9 L1348.8 1616.7 L1367.5 1617.1 L1386.2 1617.4 L1405.0 1618.1 L1423.7 1619.0 L1442.4 1618.1 L1461.1 1617.1 L1479.9 1617.3 L1498.6 1617.1 L1517.3 1616.7 L1536.0 1616.6 L1554.8 1616.6 L1573.5 1617.0 L1592.2 1617.4 L1610.9 1618.1 L1629.7 1617.4 L1648.4 1616.0 L1667.1 1616.2 L1685.8 1616.8 L1704.6 1617.4 L1723.3 1618.2 L1742.0 1619.0 L1760.7 1619.2 L1779.5 1619.4 L1798.2 1620.6 L1816.9 1621.5 L1835.6 1621.9 L1854.4 1622.5 L1873.1 1622.6 L1891.8 1621.9 L1910.5 1621.8 L1929.3 1622.3 L1948.0 1622.7 L1966.7 1622.9 L1985.4 1623.4 L2004.2 1623.1 L2022.9 1621.9 L2041.6 1621.6 L2060.3 1623.0 L2079.1 1624.4 L2097.8 1625.4 L2116.5 1626.1 L2135.2 1626.2 L2154.0 1626.3 L2172.7 1627.0 L2191.4 1627.8 L2210.1 1628.9 L2228.9 1629.7 L2247.6 1629.3 L2266.3 1630.1 L2285.0 1631.1 L2303.8 1630.4 L2322.5 1629.6 L2341.2 1629.5 L2359.9 1630.1 L2378.7 1631.1 L2397.4 1631.1 L2416.1 1629.7 L2434.8 1628.1 L2453.6 1627.0 L2472.3 1627.2 L2491.0 1626.7 L2509.7 1626.0 L2528.5 1625.6 L2547.2 1624.3 L2565.9 1623.1 L2584.6 1622.6 L2603.4 1621.7 L2622.1 1620.0 L2640.8 1618.4 L2659.5 1617.6 L2678.3 1617.7 L2697.0 1617.6 L2715.7 1617.1 L2734.4 1617.1 L2753.2 1616.7 L2771.9 1616.8 L2790.6 1616.9 L2809.3 1617.0 L2828.1 1616.8 L2846.8 1616.9 L2865.5 1617.2 L2884.2 1617.8 L2903.0 1619.1 L2921.7 1619.3 L2940.4 1618.8 L2959.1 1619.0 L2977.9 1619.2 L2996.6 1619.4 L3015.3 1619.5 L3034.0 1619.4 L3052.8 1619.6 L3071.5 1619.8 L3090.2 1619.5 L3108.9 1619.9 L3127.7 1620.7 L3146.4 1621.6 L3165.1 1623.0 L3183.8 1622.6 L3202.6 1621.9 L3221.3 1621.3 L3240.0 1620.9" fill="none" stroke="#808080" stroke-opacity="0.3" stroke-width="4.17" stroke-linejoin="round"/>
<path d="M450.0 1615.8 L468.7 1616.0 L487.4 1617.3 L506.2 1618.0 L524.9 1617.9 L543.6 1618.7 L562.3 1620.1 L581.1 1620.2 L599.8 1619.8 L618.5 1620.0 L637.2 1619.5 L656.0 1619.5 L674.7 1620.9 L693.4 1622.3 L712.1 1622.6 L730.9 1622.9 L749.6 1623.4 L768.3 1623.0 L787.0 1623.1 L805.8 1623.5 L824.5 1622.8 L843.2 1621.5 L861.9 1621.4 L880.7 1623.0 L899.4 1624.3 L918.1 1623.9 L936.8 1623.5 L955.6 1623.2 L974.3 1622.4 L993.0 1622.3 L1011.7 1622.7 L1030.5 1622.8 L1049.2 1622.3 L1067.9 1622.3 L1086.6 1622.2 L1105.4 1621.9 L1124.1 1621.9 L1142.8 1621.9 L1161.5 1621.9 L1180.3 1620.3 L1199.0 1619.3 L1217.7 1620.4 L1236.4 1620.8 L1255.2 1620.1 L1273.9 1619.7 L1292.6 1618.6 L1311.3 1616.7 L1330.1 1615.3 L1348.8 1616.0 L1367.5 1617.2 L1386.2 1617.6 L1405.0 1617.0 L1423.7 1617.7 L1442.4 1618.9 L1461.1 1618.4 L1479.9 1617.9 L1498.6 1618.7 L1517.3 1620.2 L1536.0 1620.6 L1554.8 1620.7 L1573.5 1621.1 L1592.2 1621.1 L1610.9 1620.9 L1629.7 1620.7 L1648.4 1620.7 L1667.1 1620.8 L1685.8 1620.3 L1704.6 1619.9 L1723.3 1620.4 L1742.0 1621.0 L1760.7 1621.5 L1779.5 1622.8 L1798.2 1624.4 L1816.9 1624.7 L1835.6 1624.4 L1854.4 1625.2 L1873.1 1625.6 L1891.8 1625.0 L1910.5 1625.8 L1929.3 1627.4 L1948.0 1627.8 L1966.7 1627.4 L1985.4 1626.5 L2004.2 1625.5 L2022.9 1625.9 L2041.6 1627.0 L2060.3 1627.9 L2079.1 1627.6 L2097.8 1627.0 L2116.5 1627.9 L2135.2 1629.0 L2154.0 1629.2 L2172.7 1629.9 L2191.4 1630.9 L2210.1 1631.4 L2228.9 1631.8 L2247.6 1632.6 L2266.3 1632.9 L2285.0 1632.3 L2303.8 1631.8 L2322.5 1632.2 L2341.2 1633.0 L2359.9 1633.2 L2378.7 1633.0 L2397.4 1633.5 L2416.1 1633.7 L2434.8 1633.7 L2453.6 1632.6 L2472.3 1631.3 L2491.0 1630.7 L2509.7 1629.7 L2528.5 1628.9 L2547.2 1628.3 L2565.9 1627.2 L2584.6 1626.1 L2603.4 1625.1 L2622.1 1623.9 L2640.8 1622.3 L2659.5 1620.8 L2678.3 1620.9 L2697.0 1621.2 L2715.7 1619.8 L2734.4 1618.5 L2753.2 1617.3 L2771.9 1617.7 L2790.6 1618.8 L2809.3 1619.8 L2828.1 1620.2 L2846.8 1620.2 L2865.5 1620.5 L2884.2 1621.0 L2903.0 1621.7 L2921.7 1622.6 L2940.4 1622.5 L2959.1 1623.0 L2977.9 1624.2 L2996.6 1623.5 L3015.3 1622.9 L3034.0 1622.8 L3052.8 1622.5 L3071.5 1622.1 L3090.2 1622.1 L3108.9 1622.0 L3127.7 1623.0 L3146.4 1624.2 L3165.1 1624.1 L3183.8 1622.6 L3202.6 1622.6 L3221.3 1624.6 L3240.0 1624.6" fill="none" stroke="#808080" stroke-opacity="0.3" stroke-width="4.17" stroke-linejoin="round"/>
<path d="M450.0 1655.0 L468.7 1653.1 L487.4 1653.6 L506.2 1656.4 L524.9 1654.6 L543.6 1656.9 L562.3 1658.6 L581.1 1658.6 L599.8 1657.9 L618.5 1656.9 L637.2 1657.9 L656.0 1660.3 L674.7 1659.7 L693.4 1659.7 L712.1 1662.1 L730.9 1665.7 L749.6 1664.6 L768.3 1664.3 L787.0 1663.6 L805.8 1661.1 L824.5 1663.6 L843.2 1665.7 L861.9 1660.0 L880.7 1661.4 L899.4 1663.1 L918.1 1664.3 L936.8 1662.6 L955.6 1661.1 L974.3 1659.3 L993.0 1658.9 L1011.7 1660.7 L1030.5 1662.6 L1049.2 1663.6 L1067.9 1660.7 L1086.6 1662.1 L1105.4 1662.1 L1124.1 1660.3 L1142.8 1658.9 L1161.5 1660.0 L1180.3 1662.1 L1199.0 1661.1 L1217.7 1660.7 L1236.4 1661.7 L1255.2 1662.1 L1273.9 1661.1 L1292.6 1658.9 L1311.3 1658.6 L1330.1 1659.0 L1348.8 1660.0 L1367.5 1661.1 L1386.2 1660.3 L1405.0 1657.9 L1423.7 1661.4 L1442.4 1661.7 L1461.1 1662.1 L1479.9 1661.4 L1498.6 1661.9 L1517.3 1662.6 L1536.0 1663.1 L1554.8 1666.4 L1573.5 1665.7 L1592.2 1665.4 L1610.9 1665.7 L1629.7 1666.4 L1648.4 1666.9 L1667.1 1664.6 L1685.8 1665.0 L1704.6 1667.4 L1723.3 1666.9 L1742.0 1666.4 L1760.7 1666.9 L1779.5 1664.0 L1798.2 1661.4 L1816.9 1661.1 L1835.6 1659.7 L1854.4 1658.9 L1873.1 1658.7 L1891.8 1657.9 L1910.5 1658.9 L1929.3 1658.3 L1948.0 1657.1 L1966.7 1658.9 L1985.4 1659.7 L2004.2 1661.1 L2022.9 1659.3 L2041.6 1657.9 L2060.3 1659.7 L2079.1 1660.7 L2097.8 1662.1 L2116.5 1658.6 L2135.2 1659.7 L2154.0 1659.7 L2172.7 1658.9 L2191.4 1658.6 L2210.1 1657.4 L2228.9 1658.4 L2247.6 1656.9 L2266.3 1656.4 L2285.0 1656.1 L2303.8 1656.4 L2322.5 1657.1 L2341.2 1658.6 L2359.9 1659.7 L2378.7 1659.7 L2397.4 1662.1 L2416.1 1664.0 L2434.8 1664.0 L2453.6 1664.0 L2472.3 1664.0 L2491.0 1663.6 L2509.7 1666.0 L2528.5 1665.0 L2547.2 1662.9 L2565.9 1661.1 L2584.6 1661.3 L2603.4 1662.9 L2622.1 1659.7 L2640.8 1656.9 L2659.5 1654.3 L2678.3 1655.4 L2697.0 1654.3 L2715.7 1655.0 L2734.4 1654.3 L2753.2 1652.9 L2771.9 1653.1 L2790.6 1654.6 L2809.3 1657.9 L2828.1 1657.9 L2846.8 1658.9 L2865.5 1658.6 L2884.2 1657.9 L2903.0 1659.3 L2921.7 1660.0 L2940.4 1660.7 L2959.1 1658.9 L2977.9 1657.9 L2996.6 1658.9 L3015.3 1659.7 L3034.0 1659.7 L3052.8 1659.7 L3071.5 1658.9 L3090.2 1659.7 L3108.9 1662.1 L3127.7 1662.6 L3146.4 1662.6 L3165.1 1662.1 L3183.8 1664.6 L3202.6 1666.9 L3221.3 1670.7 L3240.0 1671.4" fill="none" stroke="#808080" stroke-opacity="0.3" stroke-width="4.17" stroke-linejoin="round"/>
<path d="M450.0 1679.7 L468.7 1680.3 L487.4 1680.7 L506.2 1682.6 L524.9 1682.1 L543.6 1683.1 L562.3 1684.0 L581.1 1684.6 L599.8 1685.4 L618.5 1686.1 L637.2 1685.7 L656.0 1687.4 L674.7 1688.3 L693.4 1688.3 L712.1 1689.3 L730.9 1689.3 L749.6 1690.0 L768.3 1691.4 L787.0 1689.3 L805.8 1687.9 L824.5 1690.0 L843.2 1689.3 L861.9 1686.4 L880.7 1686.9 L899.4 1686.9 L918.1 1686.4 L936.8 1684.0 L955.6 1683.6 L974.3 1683.3 L993.0 1682.6 L1011.7 1685.0 L1030.5 1685.7 L1049.2 1683.6 L1067.9 1682.6 L1086.6 1683.6 L1105.4 1681.4 L1124.1 1681.4 L1142.8 1681.4 L1161.5 1680.5 L1180.3 1679.7 L1199.0 1679.3 L1217.7 1678.6 L1236.4 1678.9 L1255.2 1679.0 L1273.9 1679.0 L1292.6 1678.6 L1311.3 1676.4 L1330.1 1675.0 L1348.8 1676.0 L1367.5 1674.0 L1386.2 1674.6 L1405.0 1676.0 L1423.7 1677.9 L1442.4 1677.4 L1461.1 1676.9 L1479.9 1675.7 L1498.6 1676.4 L1517.3 1677.9 L1536.0 1679.7 L1554.8 1681.4 L1573.5 1681.1 L1592.2 1680.7 L1610.9 1682.9 L1629.7 1682.9 L1648.4 1680.3 L1667.1 1680.0 L1685.8 1679.7 L1704.6 1679.3 L1723.3 1680.3 L1742.0 1681.4 L1760.7 1682.1 L1779.5 1681.7 L1798.2 1679.3 L1816.9 1679.3 L1835.6 1678.6 L1854.4 1678.6 L1873.1 1678.9 L1891.8 1679.7 L1910.5 1680.3 L1929.3 1684.0 L1948.0 1683.1 L1966.7 1684.0 L1985.4 1683.6 L2004.2 1683.6 L2022.9 1684.6 L2041.6 1684.6 L2060.3 1684.3 L2079.1 1682.9 L2097.8 1682.6 L2116.5 1682.1 L2135.2 1682.9 L2154.0 1681.7 L2172.7 1680.7 L2191.4 1679.7 L2210.1 1681.7 L2228.9 1684.3 L2247.6 1685.4 L2266.3 1686.0 L2285.0 1684.3 L2303.8 1684.0 L2322.5 1683.1 L2341.2 1682.1 L2359.9 1683.6 L2378.7 1681.7 L2397.4 1682.6 L2416.1 1681.1 L2434.8 1680.7 L2453.6 1680.3 L2472.3 1680.7 L2491.0 1679.7 L2509.7 1680.0 L2528.5 1679.7 L2547.2 1680.0 L2565.9 1680.3 L2584.6 1680.3 L2603.4 1681.1 L2622.1 1682.1 L2640.8 1681.7 L2659.5 1678.9 L2678.3 1679.3 L2697.0 1678.6 L2715.7 1678.6 L2734.4 1677.9 L2753.2 1679.3 L2771.9 1680.0 L2790.6 1679.3 L2809.3 1678.6 L2828.1 1678.6 L2846.8 1678.6 L2865.5 1679.3 L2884.2 1680.0 L2903.0 1681.7 L2921.7 1682.1 L2940.4 1682.7 L2959.1 1682.9 L2977.9 1683.6 L2996.6 1684.0 L3015.3 1684.3 L3034.0 1683.6 L3052.8 1684.6 L3071.5 1683.6 L3090.2 1683.1 L3108.9 1683.1 L3127.7 1683.6 L3146.4 1682.6 L3165.1 1681.7 L3183.8 1680.7 L3202.6 1682.1 L3221.3 1685.4 L3240.0 1686.4" fill="none" stroke="#808080" stroke-opacity="0.3" stroke-width="4.17" stroke-linejoin="round"/>
<path d="M450.0 1542.1 L468.7 1542.6 L487.4 1538.3 L506.2 1540.0 L524.9 1538.9 L543.6 1538.9 L562.3 1537.4 L581.1 1536.4 L599.8 1534.3 L618.5 1535.4 L637.2 1533.6 L656.0 1532.1 L674.7 1533.6 L693.4 1535.0 L712.1 1534.7 L730.9 1535.7 L749.6 1537.6 L768.3 1538.3 L787.0 1537.4 L805.8 1536.9 L824.5 1536.9 L843.2 1538.3 L861.9 1537.9 L880.7 1534.7 L899.4 1536.0 L918.1 1535.4 L936.8 1536.4 L955.6 1537.4 L974.3 1536.9 L993.0 1534.0 L1011.7 1534.6 L1030.5 1532.1 L1049.2 1535.0 L1067.9 1533.1 L1086.6 1532.9 L1105.4 1532.9 L1124.1 1532.9 L1142.8 1531.1 L1161.5 1532.4 L1180.3 1533.1 L1199.0 1534.3 L1217.7 1535.0 L1236.4 1534.6 L1255.2 1534.0 L1273.9 1533.6 L1292.6 1531.7 L1311.3 1527.1 L1330.1 1527.1 L1348.8 1526.9 L1367.5 1526.4 L1386.2 1525.0 L1405.0 1523.6 L1423.7 1525.0 L1442.4 1525.0 L1461.1 1522.9 L1479.9 1523.1 L1498.6 1521.7 L1517.3 1520.4 L1536.0 1520.3 L1554.8 1522.1 L1573.5 1521.7 L1592.2 1521.1 L1610.9 1521.1 L1629.7 1521.7 L1648.4 1522.6 L1667.1 1525.4 L1685.8 1526.9 L1704.6 1530.7 L1723.3 1531.7 L1742.0 1530.3 L1760.7 1530.3 L1779.5 1531.1 L1798.2 1530.0 L1816.9 1530.4 L1835.6 1530.3 L1854.4 1529.7 L1873.1 1530.7 L1891.8 1530.3 L1910.5 1532.1 L1929.3 1528.6 L1948.0 1530.7 L1966.7 1531.4 L1985.4 1532.1 L2004.2 1531.1 L2022.9 1532.1 L2041.6 1532.9 L2060.3 1534.0 L2079.1 1536.4 L2097.8 1535.0 L2116.5 1535.7 L2135.2 1536.4 L2154.0 1539.3 L2172.7 1541.4 L2191.4 1542.1 L2210.1 1542.6 L2228.9 1541.8 L2247.6 1542.1 L2266.3 1540.7 L2285.0 1539.3 L2303.8 1541.1 L2322.5 1539.3 L2341.2 1535.7 L2359.9 1534.3 L2378.7 1538.3 L2397.4 1537.4 L2416.1 1535.7 L2434.8 1537.9 L2453.6 1538.6 L2472.3 1539.3 L2491.0 1539.3 L2509.7 1538.3 L2528.5 1537.9 L2547.2 1536.9 L2565.9 1537.9 L2584.6 1539.7 L2603.4 1538.6 L2622.1 1540.0 L2640.8 1540.7 L2659.5 1540.0 L2678.3 1541.1 L2697.0 1540.0 L2715.7 1544.0 L2734.4 1543.1 L2753.2 1542.9 L2771.9 1544.0 L2790.6 1544.0 L2809.3 1544.0 L2828.1 1543.6 L2846.8 1545.4 L2865.5 1545.0 L2884.2 1544.6 L2903.0 1546.0 L2921.7 1547.1 L2940.4 1545.6 L2959.1 1545.4 L2977.9 1545.4 L2996.6 1545.0 L3015.3 1544.0 L3034.0 1542.6 L3052.8 1544.0 L3071.5 1545.0 L3090.2 1545.0 L3108.9 1544.6 L3127.7 1544.0 L3146.4 1542.9 L3165.1 1545.0 L3183.8 1543.1 L3202.6 1542.6 L3221.3 1543.1 L3240.0 1542.9" fill="none" stroke="#808080" stroke-opacity="0.3" stroke-width="4.17" stroke-linejoin="round"/>
<path d="M450.0 1545.4 L468.7 1548.6 L487.4 1550.3 L506.2 1550.0 L524.9 1551.1 L543.6 1550.7 L562.3 1551.7 L581.1 1551.1 L599.8 1551.4 L618.5 1551.1 L637.2 1551.7 L656.0 1552.1 L674.7 1552.1 L693.4 1552.6 L712.1 1552.1 L730.9 1551.7 L749.6 1555.0 L768.3 1555.7 L787.0 1555.0 L805.8 1556.4 L824.5 1558.3 L843.2 1556.9 L861.9 1557.1 L880.7 1559.7 L899.4 1560.0 L918.1 1560.0 L936.8 1561.7 L955.6 1562.1 L974.3 1562.6 L993.0 1562.6 L1011.7 1562.1 L1030.5 1561.7 L1049.2 1559.7 L1067.9 1560.0 L1086.6 1560.0 L1105.4 1558.9 L1124.1 1557.9 L1142.8 1558.9 L1161.5 1558.3 L1180.3 1558.6 L1199.0 1557.4 L1217.7 1559.7 L1236.4 1560.0 L1255.2 1559.3 L1273.9 1559.3 L1292.6 1558.6 L1311.3 1557.4 L1330.1 1556.9 L1348.8 1557.1 L1367.5 1556.9 L1386.2 1557.1 L1405.0 1556.0 L1423.7 1556.4 L1442.4 1556.0 L1461.1 1556.0 L1479.9 1555.0 L1498.6 1553.1 L1517.3 1551.9 L1536.0 1551.7 L1554.8 1551.7 L1573.5 1551.4 L1592.2 1552.1 L1610.9 1552.1 L1629.7 1552.9 L1648.4 1552.6 L1667.1 1553.1 L1685.8 1552.9 L1704.6 1552.1 L1723.3 1551.7 L1742.0 1551.1 L1760.7 1551.1 L1779.5 1550.3 L1798.2 1550.3 L1816.9 1550.0 L1835.6 1550.0 L1854.4 1550.3 L1873.1 1549.7 L1891.8 1549.3 L1910.5 1549.7 L1929.3 1548.9 L1948.0 1548.3 L1966.7 1547.9 L1985.4 1546.4 L2004.2 1545.0 L2022.9 1544.6 L2041.6 1544.6 L2060.3 1545.4 L2079.1 1545.7 L2097.8 1545.0 L2116.5 1544.3 L2135.2 1545.0 L2154.0 1540.7 L2172.7 1538.6 L2191.4 1538.3 L2210.1 1537.9 L2228.9 1536.1 L2247.6 1533.1 L2266.3 1530.0 L2285.0 1527.9 L2303.8 1527.4 L2322.5 1526.4 L2341.2 1525.7 L2359.9 1526.0 L2378.7 1523.6 L2397.4 1525.4 L2416.1 1524.6 L2434.8 1525.0 L2453.6 1526.9 L2472.3 1525.7 L2491.0 1527.9 L2509.7 1526.1 L2528.5 1524.6 L2547.2 1523.6 L2565.9 1525.0 L2584.6 1525.7 L2603.4 1523.6 L2622.1 1522.9 L2640.8 1521.1 L2659.5 1521.7 L2678.3 1520.0 L2697.0 1520.7 L2715.7 1520.0 L2734.4 1521.7 L2753.2 1522.6 L2771.9 1521.1 L2790.6 1520.3 L2809.3 1521.1 L2828.1 1522.1 L2846.8 1521.1 L2865.5 1522.1 L2884.2 1521.4 L2903.0 1521.1 L2921.7 1521.4 L2940.4 1523.1 L2959.1 1522.6 L2977.9 1522.9 L2996.6 1522.1 L3015.3 1521.1 L3034.0 1520.3 L3052.8 1520.0 L3071.5 1520.0 L3090.2 1520.0 L3108.9 1519.3 L3127.7 1519.3 L3146.4 1517.9 L3165.1 1521.1 L3183.8 1521.7 L3202.6 1521.7 L3221.3 1522.9 L3240.0 1524.0" fill="none" stroke="#808080" stroke-opacity="0.3" stroke-width="4.17" stroke-linejoin="round"/>
<path d="M450.0 1629.7 L468.7 1629.7 L487.4 1630.7 L506.2 1627.1 L524.9 1628.3 L543.6 1629.7 L562.3 1629.7 L581.1 1631.1 L599.8 1629.3 L618.5 1630.3 L637.2 1629.3 L656.0 1629.3 L674.7 1627.4 L693.4 1629.3 L712.1 1629.3 L730.9 1629.3 L749.6 1630.0 L768.3 1629.7 L787.0 1628.6 L805.8 1628.3 L824.5 1629.0 L843.2 1627.4 L861.9 1627.9 L880.7 1628.3 L899.4 1626.4 L918.1 1626.9 L936.8 1627.4 L955.6 1627.9 L974.3 1628.3 L993.0 1628.9 L1011.7 1630.0 L1030.5 1630.7 L1049.2 1630.3 L1067.9 1634.0 L1086.6 1633.6 L1105.4 1633.6 L1124.1 1634.0 L1142.8 1632.1 L1161.5 1635.2 L1180.3 1634.3 L1199.0 1636.9 L1217.7 1638.9 L1236.4 1640.7 L1255.2 1640.0 L1273.9 1640.0 L1292.6 1639.7 L1311.3 1640.3 L1330.1 1641.0 L1348.8 1641.7 L1367.5 1642.1 L1386.2 1642.1 L1405.0 1641.7 L1423.7 1641.1 L1442.4 1639.3 L1461.1 1640.7 L1479.9 1641.7 L1498.6 1641.4 L1517.3 1641.4 L1536.0 1642.1 L1554.8 1641.1 L1573.5 1642.1 L1592.2 1640.7 L1610.9 1641.4 L1629.7 1639.3 L1648.4 1638.6 L1667.1 1637.9 L1685.8 1638.6 L1704.6 1639.7 L1723.3 1637.1 L1742.0 1635.7 L1760.7 1631.7 L1779.5 1629.7 L1798.2 1627.4 L1816.9 1627.9 L1835.6 1627.1 L1854.4 1628.6 L1873.1 1628.4 L1891.8 1627.1 L1910.5 1627.9 L1929.3 1628.6 L1948.0 1630.7 L1966.7 1631.1 L1985.4 1631.4 L2004.2 1631.1 L2022.9 1630.7 L2041.6 1631.7 L2060.3 1632.9 L2079.1 1634.0 L2097.8 1634.3 L2116.5 1635.4 L2135.2 1637.1 L2154.0 1638.9 L2172.7 1637.9 L2191.4 1639.3 L2210.1 1640.0 L2228.9 1640.7 L2247.6 1639.3 L2266.3 1638.6 L2285.0 1638.9 L2303.8 1639.7 L2322.5 1637.9 L2341.2 1636.4 L2359.9 1640.0 L2378.7 1639.7 L2397.4 1640.7 L2416.1 1639.7 L2434.8 1641.1 L2453.6 1642.1 L2472.3 1640.3 L2491.0 1637.9 L2509.7 1639.3 L2528.5 1636.9 L2547.2 1637.9 L2565.9 1638.6 L2584.6 1638.7 L2603.4 1636.0 L2622.1 1635.7 L2640.8 1635.0 L2659.5 1632.1 L2678.3 1632.1 L2697.0 1634.3 L2715.7 1633.6 L2734.4 1635.7 L2753.2 1633.6 L2771.9 1632.9 L2790.6 1633.6 L2809.3 1631.4 L2828.1 1632.6 L2846.8 1630.3 L2865.5 1632.6 L2884.2 1631.4 L2903.0 1631.4 L2921.7 1627.9 L2940.4 1625.0 L2959.1 1624.3 L2977.9 1625.4 L2996.6 1626.0 L3015.3 1625.4 L3034.0 1624.6 L3052.8 1624.6 L3071.5 1622.6 L3090.2 1624.0 L3108.9 1625.4 L3127.7 1626.4 L3146.4 1625.7 L3165.1 1624.6 L3183.8 1623.1 L3202.6 1623.1 L3221.3 1626.4 L3240.0 1626.4" fill="none" stroke="#808080" stroke-width="4.17" stroke-linejoin="round"/>
<path d="M450.0 1549.3 L468.7 1551.7 L487.4 1552.6 L506.2 1553.6 L524.9 1556.9 L543.6 1555.7 L562.3 1554.0 L581.1 1555.0 L599.8 1554.0 L618.5 1555.0 L637.2 1555.0 L656.0 1555.7 L674.7 1555.7 L693.4 1557.1 L712.1 1556.9 L730.9 1557.4 L749.6 1560.3 L768.3 1558.9 L787.0 1560.0 L805.8 1561.1 L824.5 1564.6 L843.2 1565.0 L861.9 1563.1 L880.7 1562.6 L899.4 1561.4 L918.1 1560.7 L936.8 1564.3 L955.6 1565.4 L974.3 1566.4 L993.0 1566.9 L1011.7 1566.4 L1030.5 1566.0 L1049.2 1566.0 L1067.9 1566.0 L1086.6 1566.4 L1105.4 1566.0 L1124.1 1566.0 L1142.8 1565.7 L1161.5 1565.9 L1180.3 1565.7 L1199.0 1566.0 L1217.7 1566.0 L1236.4 1565.7 L1255.2 1565.0 L1273.9 1564.3 L1292.6 1563.6 L1311.3 1562.6 L1330.1 1561.7 L1348.8 1560.7 L1367.5 1557.9 L1386.2 1557.4 L1405.0 1556.4 L1423.7 1558.6 L1442.4 1557.9 L1461.1 1558.6 L1479.9 1557.9 L1498.6 1556.4 L1517.3 1555.0 L1536.0 1555.0 L1554.8 1554.3 L1573.5 1554.0 L1592.2 1554.6 L1610.9 1554.3 L1629.7 1555.4 L1648.4 1555.7 L1667.1 1555.4 L1685.8 1555.0 L1704.6 1554.6 L1723.3 1554.3 L1742.0 1553.6 L1760.7 1554.0 L1779.5 1553.6 L1798.2 1554.0 L1816.9 1554.0 L1835.6 1554.0 L1854.4 1554.3 L1873.1 1553.0 L1891.8 1552.9 L1910.5 1554.6 L1929.3 1553.1 L1948.0 1554.0 L1966.7 1556.9 L1985.4 1555.7 L2004.2 1554.6 L2022.9 1554.0 L2041.6 1555.4 L2060.3 1557.9 L2079.1 1558.9 L2097.8 1559.3 L2116.5 1560.3 L2135.2 1562.9 L2154.0 1559.7 L2172.7 1562.1 L2191.4 1562.6 L2210.1 1562.1 L2228.9 1562.9 L2247.6 1562.1 L2266.3 1562.9 L2285.0 1561.4 L2303.8 1562.1 L2322.5 1562.9 L2341.2 1561.1 L2359.9 1562.6 L2378.7 1565.0 L2397.4 1564.3 L2416.1 1564.0 L2434.8 1565.0 L2453.6 1565.0 L2472.3 1565.4 L2491.0 1565.0 L2509.7 1564.0 L2528.5 1563.1 L2547.2 1562.9 L2565.9 1565.0 L2584.6 1564.8 L2603.4 1564.6 L2622.1 1560.7 L2640.8 1559.3 L2659.5 1558.9 L2678.3 1560.0 L2697.0 1558.9 L2715.7 1558.9 L2734.4 1557.9 L2753.2 1556.9 L2771.9 1560.7 L2790.6 1558.6 L2809.3 1559.7 L2828.1 1560.7 L2846.8 1561.4 L2865.5 1561.7 L2884.2 1561.7 L2903.0 1563.6 L2921.7 1558.9 L2940.4 1559.7 L2959.1 1558.9 L2977.9 1558.6 L2996.6 1558.3 L3015.3 1557.4 L3034.0 1559.7 L3052.8 1560.7 L3071.5 1561.1 L3090.2 1561.4 L3108.9 1561.4 L3127.7 1558.6 L3146.4 1558.9 L3165.1 1558.9 L3183.8 1563.1 L3202.6 1560.7 L3221.3 1558.9 L3240.0 1556.9" fill="none" stroke="#808080" stroke-width="4.17" stroke-linejoin="round"/>
<path d="M450.0 1590.0 L468.7 1589.7 L487.4 1590.7 L506.2 1592.1 L524.9 1590.7 L543.6 1592.1 L562.3 1589.3 L581.1 1589.3 L599.8 1591.1 L618.5 1594.0 L637.2 1591.4 L656.0 1592.1 L674.7 1591.7 L693.4 1593.1 L712.1 1594.3 L730.9 1594.6 L749.6 1593.6 L768.3 1593.6 L787.0 1593.6 L805.8 1594.3 L824.5 1595.0 L843.2 1593.6 L861.9 1592.6 L880.7 1592.1 L899.4 1592.6 L918.1 1592.6 L936.8 1593.1 L955.6 1593.6 L974.3 1594.3 L993.0 1596.4 L1011.7 1595.4 L1030.5 1595.0 L1049.2 1594.3 L1067.9 1594.6 L1086.6 1596.9 L1105.4 1595.7 L1124.1 1594.6 L1142.8 1595.0 L1161.5 1595.0 L1180.3 1593.6 L1199.0 1593.6 L1217.7 1594.0 L1236.4 1595.4 L1255.2 1595.4 L1273.9 1596.0 L1292.6 1595.4 L1311.3 1596.4 L1330.1 1593.1 L1348.8 1594.6 L1367.5 1594.0 L1386.2 1592.9 L1405.0 1593.1 L1423.7 1592.1 L1442.4 1590.7 L1461.1 1591.1 L1479.9 1592.6 L1498.6 1591.4 L1517.3 1591.8 L1536.0 1591.1 L1554.8 1590.3 L1573.5 1593.6 L1592.2 1591.4 L1610.9 1591.1 L1629.7 1591.4 L1648.4 1592.1 L1667.1 1593.1 L1685.8 1594.3 L1704.6 1595.0 L1723.3 1594.6 L1742.0 1594.6 L1760.7 1595.7 L1779.5 1595.0 L1798.2 1593.6 L1816.9 1592.1 L1835.6 1590.7 L1854.4 1591.4 L1873.1 1590.7 L1891.8 1592.1 L1910.5 1592.6 L1929.3 1592.6 L1948.0 1591.4 L1966.7 1590.7 L1985.4 1592.1 L2004.2 1592.6 L2022.9 1593.1 L2041.6 1591.4 L2060.3 1594.3 L2079.1 1593.6 L2097.8 1594.0 L2116.5 1594.3 L2135.2 1593.6 L2154.0 1592.9 L2172.7 1592.6 L2191.4 1591.4 L2210.1 1588.9 L2228.9 1589.9 L2247.6 1591.4 L2266.3 1593.6 L2285.0 1591.4 L2303.8 1591.1 L2322.5 1591.7 L2341.2 1591.7 L2359.9 1592.1 L2378.7 1591.7 L2397.4 1592.6 L2416.1 1591.4 L2434.8 1591.4 L2453.6 1593.1 L2472.3 1592.6 L2491.0 1590.3 L2509.7 1591.4 L2528.5 1590.7 L2547.2 1590.3 L2565.9 1590.3 L2584.6 1589.5 L2603.4 1590.7 L2622.1 1590.3 L2640.8 1592.1 L2659.5 1587.9 L2678.3 1588.3 L2697.0 1586.9 L2715.7 1586.4 L2734.4 1585.7 L2753.2 1585.4 L2771.9 1590.7 L2790.6 1588.3 L2809.3 1590.0 L2828.1 1588.6 L2846.8 1590.3 L2865.5 1588.9 L2884.2 1586.4 L2903.0 1588.6 L2921.7 1587.9 L2940.4 1588.6 L2959.1 1588.9 L2977.9 1589.3 L2996.6 1590.0 L3015.3 1588.9 L3034.0 1588.6 L3052.8 1589.3 L3071.5 1590.0 L3090.2 1590.0 L3108.9 1589.7 L3127.7 1589.3 L3146.4 1590.3 L3165.1 1590.3 L3183.8 1589.3 L3202.6 1587.4 L3221.3 1589.3 L3240.0 1588.9" fill="none" stroke="#000" stroke-width="8.33" stroke-linejoin="round"/>
<path d="M730.9 1585.4 L749.6 1586.9 L768.3 1587.1 L787.0 1586.9 L805.8 1588.3 L824.5 1590.0 L843.2 1586.9 L861.9 1584.3 L880.7 1583.1 L899.4 1583.6 L918.1 1582.6 L936.8 1581.4 L955.6 1580.0 L974.3 1579.0 L993.0 1578.6 L1011.7 1580.0 L1030.5 1579.7 L1049.2 1576.4 L1067.9 1576.4 L1086.6 1572.9 L1105.4 1572.6 L1124.1 1572.3 L1142.8 1573.6 L1161.5 1571.4 L1180.3 1572.0 L1199.0 1575.0 L1217.7 1576.3 L1236.4 1578.1 L1255.2 1579.6 L1273.9 1577.9 L1292.6 1576.9 L1311.3 1575.9 L1330.1 1575.0 L1348.8 1574.4 L1367.5 1571.0 L1386.2 1572.1 L1405.0 1573.1 L1423.7 1574.0 L1442.4 1575.0 L1461.1 1575.9 L1479.9 1576.9 L1498.6 1578.7 L1517.3 1582.6 L1536.0 1585.4" fill="none" stroke="#008000" stroke-width="12.5" stroke-linejoin="round" stroke-linecap="square"/>
</g>
<line x1="619" y1="1838.00" x2="619" y2="210.00" stroke="#000" stroke-width="2" stroke-dasharray="4.17 12.5" fill="none"/>
<line x1="993" y1="1838.00" x2="993" y2="210.00" stroke="#000" stroke-width="2" stroke-dasharray="4.17 12.5" fill="none"/>
<line x1="1368" y1="1838.00" x2="1368" y2="210.00" stroke="#000" stroke-width="2" stroke-dasharray="4.17 12.5" fill="none"/>
<line x1="1742" y1="1838.00" x2="1742" y2="210.00" stroke="#000" stroke-width="2" stroke-dasharray="4.17 12.5" fill="none"/>
<line x1="2117" y1="1838.00" x2="2117" y2="210.00" stroke="#000" stroke-width="2" stroke-dasharray="4.17 12.5" fill="none"/>
<line x1="2491" y1="1838.00" x2="2491" y2="210.00" stroke="#000" stroke-width="2" stroke-dasharray="4.17 12.5" fill="none"/>
<line x1="2866" y1="1838.00" x2="2866" y2="210.00" stroke="#000" stroke-width="2" stroke-dasharray="4.17 12.5" fill="none"/>
<line x1="450.00" y1="1566" x2="3240.00" y2="1566" stroke="#000" stroke-width="2" stroke-dasharray="4.17 12.5" fill="none"/>
<line x1="450.00" y1="1295" x2="3240.00" y2="1295" stroke="#000" stroke-width="2" stroke-dasharray="4.17 12.5" fill="none"/>
<line x1="450.00" y1="1024" x2="3240.00" y2="1024" stroke="#000" stroke-width="2" stroke-dasharray="4.17 12.5" fill="none"/>
<line x1="450.00" y1="752" x2="3240.00" y2="752" stroke="#000" stroke-width="2" stroke-dasharray="4.17 12.5" fill="none"/>
<line x1="450.00" y1="481" x2="3240.00" y2="481" stroke="#000" stroke-width="2" stroke-dasharray="4.17 12.5" fill="none"/>
<line x1="619" y1="1838.00" x2="619" y2="1820.83" stroke="#000" stroke-width="2"/>
<line x1="619" y1="210.00" x2="619" y2="226.67" stroke="#000" stroke-width="2"/>
<line x1="993" y1="1838.00" x2="993" y2="1820.83" stroke="#000" stroke-width="2"/>
<line x1="993" y1="210.00" x2="993" y2="226.67" stroke="#000" stroke-width="2"/>
<line x1="1368" y1="1838.00" x2="1368" y2="1820.83" stroke="#000" stroke-width="2"/>
<line x1="1368" y1="210.00" x2="1368" y2="226.67" stroke="#000" stroke-width="2"/>
<line x1="1742" y1="1838.00" x2="1742" y2="1820.83" stroke="#000" stroke-width="2"/>
<line x1="1742" y1="210.00" x2="1742" y2="226.67" stroke="#000" stroke-width="2"/>
<line x1="2117" y1="1838.00" x2="2117" y2="1820.83" stroke="#000" stroke-width="2"/>
<line x1="2117" y1="210.00" x2="2117" y2="226.67" stroke="#000" stroke-width="2"/>
<line x1="2491" y1="1838.00" x2="2491" y2="1820.83" stroke="#000" stroke-width="2"/>
<line x1="2491" y1="210.00" x2="2491" y2="226.67" stroke="#000" stroke-width="2"/>
<line x1="2866" y1="1838.00" x2="2866" y2="1820.83" stroke="#000" stroke-width="2"/>
<line x1="2866" y1="210.00" x2="2866" y2="226.67" stroke="#000" stroke-width="2"/>
<line x1="3240" y1="1838.00" x2="3240" y2="1820.83" stroke="#000" stroke-width="2"/>
<line x1="3240" y1="210.00" x2="3240" y2="226.67" stroke="#000" stroke-width="2"/>
<line x1="450.00" y1="1837" x2="466.67" y2="1837" stroke="#000" stroke-width="2"/>
<line x1="3240.00" y1="1837" x2="3223.33" y2="1837" stroke="#000" stroke-width="2"/>
<line x1="450.00" y1="1566" x2="466.67" y2="1566" stroke="#000" stroke-width="2"/>
<line x1="3240.00" y1="1566" x2="3223.33" y2="1566" stroke="#000" stroke-width="2"/>
<line x1="450.00" y1="1295" x2="466.67" y2="1295" stroke="#000" stroke-width="2"/>
<line x1="3240.00" y1="1295" x2="3223.33" y2="1295" stroke="#000" stroke-width="2"/>
<line x1="450.00" y1="1024" x2="466.67" y2="1024" stroke="#000" stroke-width="2"/>
<line x1="3240.00" y1="1024" x2="3223.33" y2="1024" stroke="#000" stroke-width="2"/>
<line x1="450.00" y1="752" x2="466.67" y2="752" stroke="#000" stroke-width="2"/>
<line x1="3240.00" y1="752" x2="3223.33" y2="752" stroke="#000" stroke-width="2"/>
<line x1="450.00" y1="481" x2="466.67" y2="481" stroke="#000" stroke-width="2"/>
<line x1="3240.00" y1="481" x2="3223.33" y2="481" stroke="#000" stroke-width="2"/>
<line x1="450.00" y1="210" x2="466.67" y2="210" stroke="#000" stroke-width="2"/>
<line x1="3240.00" y1="210" x2="3223.33" y2="210" stroke="#000" stroke-width="2"/>
<rect x="450" y="210" width="2790" height="1628" fill="none" stroke="#000" stroke-width="4"/>
<rect x="2615" y="245" width="590" height="417" fill="#fff" stroke="#000" stroke-width="4"/>
<rect x="2662" y="296" width="102" height="4" fill="#808080"/>
<rect x="2662" y="395" width="102" height="4" fill="#808080"/>
<rect x="2660" y="492" width="106" height="8" fill="#000"/>
<rect x="2658" y="589" width="111" height="13" fill="#008000"/>
<g font-family="Liberation Serif" fill="#000">
<g transform="translate(256,556) scale(0.047619)" fill="#000" stroke="none">
<path d="M218,125 L250,125 C252,190 268,228 300,246 L1090,703 L1080,730 L905,648 L272,288 C258,315 252,350 250,390 L218,390 Z"/>
<path d="M218,570 L250,570 C252,630 258,670 275,687 L905,643 L1090,703 L1080,730 L275,793 C258,805 252,840 250,880 L218,880 Z"/>
<path d="M360,790 L430,772 L1090,1155 L1080,1188 L905,1112 Z"/>
<path d="M218,1020 L250,1020 C252,1070 258,1098 275,1108 L905,1108 L1090,1155 L1080,1188 L275,1248 C258,1262 252,1300 250,1340 L218,1340 Z"/>
</g>
<line x1="321.1" y1="564.2" x2="262.1" y2="542.6" stroke="#000" stroke-width="2.4"/>
<g transform="translate(250,456) scale(0.061237)" fill="none" stroke="#000" stroke-linecap="round" stroke-linejoin="round">
<path d="M585,1150 L900,1235 M590,885 L900,965 M600,625 C700,640 780,695 850,708" stroke-width="64"/>
<path d="M560,1135 L620,1160 M565,872 L625,895 M560,622 L640,632" stroke-width="50"/>
<path d="M645,1300 C560,1280 500,1250 498,1200 C498,1160 540,1138 585,1150 M575,1112 C525,1060 492,1010 496,960 C500,900 540,873 590,885 M575,852 C525,800 492,750 496,700 C500,640 550,613 600,625 M850,708 C900,718 932,692 926,650 C916,600 850,560 775,537" stroke-width="27"/>
</g>
<g transform="translate(250,456) scale(0.061237)" fill="#000" stroke="none">
<path d="M555,405 L555,160 L540,155 C500,150 470,148 440,145 L445,162 C480,172 500,190 500,230 L500,335 L372,202 C332,160 290,136 240,136 C170,136 110,190 110,270 C110,335 150,392 215,402 C260,407 282,380 280,355 C277,328 255,320 240,323 C220,327 208,345 213,367 C178,360 140,320 140,270 C140,215 185,185 235,185 C290,185 320,215 350,250 L530,405 Z"/>
</g>
</g>
</svg>
<div class="t xt" id="title" style="font-size:70px;left:1844.8px;top:130.6px">Rūjiena.Okt</div>
<div class="t xt" style="left:618.52px;top:1848px">1960</div>
<div class="t xt" style="left:993.02px;top:1848px">1980</div>
<div class="t xt" style="left:1367.52px;top:1848px">2000</div>
<div class="t xt" style="left:1742.01px;top:1848px">2020</div>
<div class="t xt" style="left:2116.51px;top:1848px">2040</div>
<div class="t xt" style="left:2491.01px;top:1848px">2060</div>
<div class="t xt" style="left:2865.50px;top:1848px">2080</div>
<div class="t xt" style="left:3240.00px;top:1848px">2100</div>
<div class="t yt" style="left:433.3px;top:1804.00px">0</div>
<div class="t yt" style="left:433.3px;top:1532.75px">50</div>
<div class="t yt" style="left:433.3px;top:1261.50px">100</div>
<div class="t yt" style="left:433.3px;top:990.25px">150</div>
<div class="t yt" style="left:433.3px;top:719.00px">200</div>
<div class="t yt" style="left:433.3px;top:447.75px">250</div>
<div class="t yt" style="left:433.3px;top:176.50px">300</div>
<div class="t xt" id="xlabel" style="left:1845px;top:1920px">Gads</div>
<div class="t lg" style="left:2838.6px;top:263.7px">13%</div>
<div class="t lg" style="left:2838.6px;top:362.7px">87%</div>
<div class="t lg" style="left:2838.6px;top:461.7px">Mediāna</div>
<div class="t lg" style="left:2838.6px;top:561.2px">Novērojumi</div>
<div class="t" id="ylabel" style="left:257.7px;top:1585.4px;transform-origin:0 0;transform:rotate(-90deg)">Saules radiācija uz horizontālas virsmas,</div>
</body></html>
